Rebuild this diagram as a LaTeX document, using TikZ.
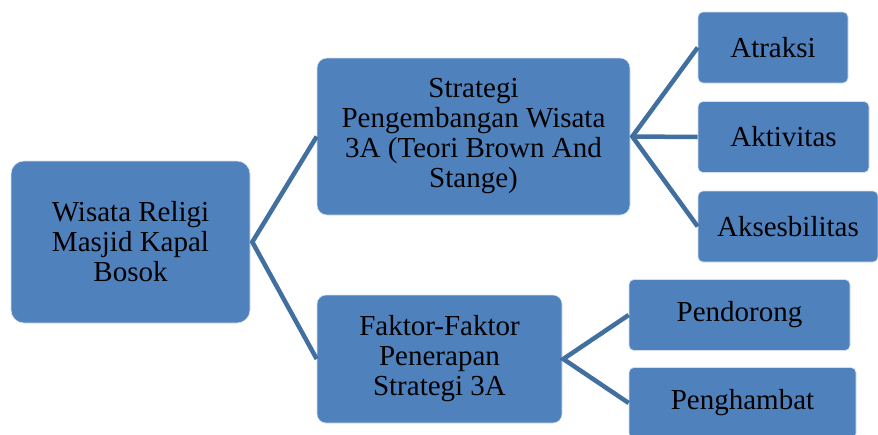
\documentclass[tikz,border=0pt]{standalone}
\usepackage{fontspec}
\setmainfont{Liberation Serif}
\usepackage{xcolor}
\usepackage{tikz}

\definecolor{boxblue}{RGB}{79,129,189}
\definecolor{lineblue}{RGB}{65,111,160}

\begin{document}
\begin{tikzpicture}[x=1pt,y=-1pt]
\tikzstyle{box} = [fill=boxblue,draw=white!75!boxblue,line width=0.6pt,align=center,inner sep=0,font=\fontsize{29}{30}\selectfont];
\tikzstyle{leaf} = [box,rounded corners=5pt,minimum height=71pt];
\tikzstyle{link} = [lineblue,line width=4.5pt,line join=miter];
\useasboundingbox (0,0) rectangle (878,434);
% level 1
\node [box,rounded corners=13pt,minimum width=239pt,minimum height=162pt] (religi) at (130.5,242) {Wisata Religi\\Masjid Kapal\\Bosok};
% level 2
\node [box,rounded corners=10pt,minimum width=313pt,minimum height=157pt] (strategi) at (473.5,136.5) {Strategi\\Pengembangan Wisata\\3A (Teori Brown And\\Stange)};
\node [box,rounded corners=9pt,minimum width=245pt,minimum height=128pt] (faktor) at (439.5,359) {Faktor-Faktor\\Penerapan\\Strategi 3A};
% level 3
\node [leaf,minimum width=150pt] (atraksi) at (773,47.5) {Atraksi};
\node [leaf,minimum width=171pt] (aktivitas) at (783.5,137) {Aktivitas};
\node [leaf,minimum width=180pt] (akses) at (788,226.5) {Aksesbilitas};
\node [leaf,minimum width=221pt] (dorong) at (739.5,315) {Pendorong};
\node [leaf,minimum width=227pt] (hambat) at (742.5,403) {Penghambat};
% connectors
\draw [link] (strategi.west) -- ([xshift=2pt]religi.east) -- (faktor.west);
\draw [link] (atraksi.west) -- ([xshift=2pt]strategi.east) -- (akses.west);
\draw [link] ([xshift=2pt]strategi.east) -- (aktivitas.west);
\draw [link] (dorong.west) -- ([xshift=1pt]faktor.east) -- (hambat.west);
\end{tikzpicture}
\end{document}
